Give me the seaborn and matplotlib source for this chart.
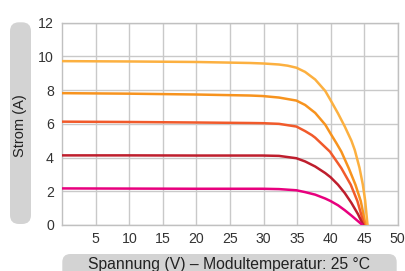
import matplotlib
matplotlib.use("Agg")
import matplotlib.pyplot as plt
from matplotlib.patches import FancyBboxPatch
import seaborn as sns
import pandas as pd

# ---- data ----
v_1000 = [0, 10, 20, 28, 30, 32.3, 33.6, 34.9, 36.2, 37.7, 39.2, 40, 41.1, 42.1, 43.1, 43.6, 44.3, 44.8, 45.15, 45.5]
i_1000 = [9.72, 9.70, 9.67, 9.61, 9.58, 9.52, 9.45, 9.33, 9.08, 8.63, 7.95, 7.4, 6.62, 5.85, 5.0, 4.45, 3.4, 2.4, 1.45, 0]

v_800 = [0, 10, 20, 28, 29.85, 32.3, 34.9, 36.2, 37.7, 39.2, 40.1, 40.9, 41.6, 42.7, 43.7, 44.5, 45.2]
i_800 = [7.82, 7.79, 7.74, 7.68, 7.65, 7.56, 7.38, 7.12, 6.65, 5.95, 5.35, 4.83, 4.35, 3.37, 2.39, 1.41, 0]

v_600 = [0, 10, 20, 28, 29.85, 32.3, 34.9, 36.2, 37.2, 37.7, 39.9, 41.6, 43.0, 44.0, 45.0]
i_600 = [6.13, 6.11, 6.08, 6.05, 6.04, 6.0, 5.84, 5.57, 5.33, 5.18, 4.35, 3.37, 2.39, 1.41, 0]

v_400 = [0, 10, 20, 28, 29.85, 32.3, 34.9, 36.2, 37.7, 39.2, 40, 41.1, 42.1, 43.1, 44.1, 44.85]
i_400 = [4.13, 4.13, 4.12, 4.12, 4.12, 4.1, 3.96, 3.77, 3.47, 3.08, 2.83, 2.39, 1.9, 1.31, 0.63, 0]

v_200 = [0, 10, 20, 28, 29.85, 32.3, 34.9, 36.2, 37.7, 39.2, 40, 41.1, 42.1, 43.1, 44.1, 44.75]
i_200 = [2.17, 2.16, 2.15, 2.15, 2.15, 2.13, 2.06, 1.95, 1.8, 1.57, 1.42, 1.17, 0.88, 0.56, 0.22, 0]

curve_names = ["1000", "800", "600", "400", "200"]
curve_colors = ["#FCB040", "#F7931E", "#F15A2B", "#BE1E2D", "#E8007E"]

x_ticks = [5, 10, 15, 20, 25, 30, 35, 40, 45, 50]
y_ticks = [0, 2, 4, 6, 8, 10, 12]
x_label = "Spannung (V) – Modultemperatur: 25 °C"
y_label = "Strom (A)"

rows = []
for name, vs, cs in zip(curve_names,
                        [v_1000, v_800, v_600, v_400, v_200],
                        [i_1000, i_800, i_600, i_400, i_200]):
    for k, (v, c) in enumerate(zip(vs, cs)):
        rows.append({"curve": name, "V": v, "I": c, "order": k})
df = pd.DataFrame(rows)

sns.set_theme(style="white")
plt.rcParams["font.family"] = ["Liberation Sans", "DejaVu Sans"]

W, H = 406, 271
fig = plt.figure(figsize=(W / 100, H / 100), dpi=100)
ax = fig.add_axes([62.3 / W, 1 - 225 / H, (397.7 - 62.3) / W, (225 - 22.7) / H])

sns.lineplot(data=df, x="V", y="I", hue="curve", hue_order=curve_names,
             palette=dict(zip(curve_names, curve_colors)), sort=False,
             estimator=None, legend=False, linewidth=1.8, ax=ax, zorder=3)
for ln in ax.get_lines():
    ln.set_solid_joinstyle("round")
    ln.set_solid_capstyle("round")

ax.set_xlim(0, 50)
ax.set_ylim(0, 12)
ax.set_xticks(x_ticks)
ax.set_yticks(y_ticks)
ax.set_xlabel("")
ax.set_ylabel("")
ax.grid(True, color="#c9c9c9", linewidth=1.0, zorder=0)
ax.set_axisbelow(True)
for s in ax.spines.values():
    s.set_color("#c0c0c0")
    s.set_linewidth(1.0)
ax.tick_params(axis="both", length=0, labelsize=10.2, colors="#333333")
ax.tick_params(axis="y", pad=6)
ax.tick_params(axis="x", pad=5)

# label boxes
ybox = FancyBboxPatch((10 / W, 1 - 224 / H), 21 / W, (224 - 22.3) / H,
                      boxstyle="round,pad=0,rounding_size=0.022",
                      transform=fig.transFigure, facecolor="#d3d3d3",
                      edgecolor="none", mutation_aspect=W / H)
fig.patches.append(ybox)
fig.text(20.5 / W, 1 - 126 / H, y_label, rotation=90, ha="center", va="center",
         fontsize=10.5, color="#222222")

xbox = FancyBboxPatch((62.3 / W, 1 - 285 / H), (396.7 - 62.3) / W, 31 / H,
                      boxstyle="round,pad=0,rounding_size=0.02",
                      transform=fig.transFigure, facecolor="#d3d3d3",
                      edgecolor="none", mutation_aspect=W / H)
fig.patches.append(xbox)
fig.text(229.5 / W, 1 - 264.5 / H, x_label, ha="center", va="center",
         fontsize=11.3, color="#222222")

fig.savefig("out.png", dpi=100)
